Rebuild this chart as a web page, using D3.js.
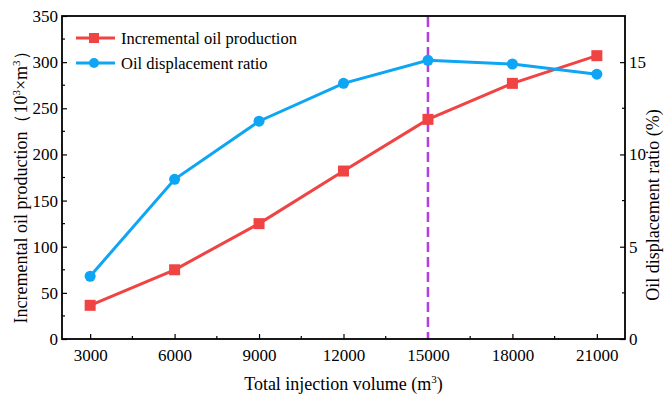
<!DOCTYPE html>
<html>
<head>
<meta charset="utf-8">
<script src="https://cdn.jsdelivr.net/npm/d3@7"></script>
<style>
  body { margin: 0; background: #fff; }
  svg text { font-family: "Liberation Serif", "Times New Roman", serif; fill: #000; }
</style>
</head>
<body>
<svg width="665" height="401"></svg>
<script>
// data
const volumes = [3000, 6000, 9000, 12000, 15000, 18000, 21000];
const oilProduction = [36.5, 75, 125, 182, 238, 277, 307]; // 10^3 m3
const displacementRatio = [3.4, 8.65, 11.8, 13.85, 15.1, 14.9, 14.35]; // %
const xTicks = [3000, 6000, 9000, 12000, 15000, 18000, 21000];
const yLeftTicks = [0, 50, 100, 150, 200, 250, 300, 350];
const yRightTicks = [0, 5, 10, 15];
const markerLine = 15000;

const red = '#f04343';
const blue = '#0ea5f5';
const purple = '#b53ee0';

const m = { left: 62, right: 625, top: 16, bottom: 339 };
const svg = d3.select('svg');

const x = d3.scaleLinear().domain([2000, 22000]).range([m.left, m.right]);
const yL = d3.scaleLinear().domain([0, 350]).range([m.bottom, m.top]);
const yR = d3.scaleLinear().domain([0, 17.5]).range([m.bottom, m.top]);

// minor ticks (inward)
const minor = svg.append('g').attr('stroke', '#000').attr('stroke-width', 1.2);
d3.range(4500, 22000, 3000).forEach((v) => {
    minor.append('line').attr('x1', x(v)).attr('x2', x(v))
        .attr('y1', m.bottom).attr('y2', m.bottom - 3);
});
d3.range(25, 350, 50).forEach((v) => {
    minor.append('line').attr('x1', m.left).attr('x2', m.left + 3)
        .attr('y1', yL(v)).attr('y2', yL(v));
});
d3.range(2.5, 17.5, 5).forEach((v) => {
    minor.append('line').attr('x1', m.right).attr('x2', m.right - 3)
        .attr('y1', yR(v)).attr('y2', yR(v));
});

// axes
const xAxis = svg.append('g').attr('transform', `translate(0,${m.bottom})`)
    .call(d3.axisBottom(x).tickValues(xTicks).tickFormat(d3.format('d'))
        .tickSizeInner(-5).tickSizeOuter(0).tickPadding(10));
const yAxisL = svg.append('g').attr('transform', `translate(${m.left},0)`)
    .call(d3.axisLeft(yL).tickValues(yLeftTicks).tickSizeInner(-5).tickSizeOuter(0).tickPadding(4));
const yAxisR = svg.append('g').attr('transform', `translate(${m.right},0)`)
    .call(d3.axisRight(yR).tickValues(yRightTicks).tickSizeInner(-5).tickSizeOuter(0).tickPadding(4));

[xAxis, yAxisL, yAxisR].forEach((g) => {
    g.selectAll('text').attr('font-size', 17).attr('font-family', '"Liberation Serif", serif');
    g.selectAll('line').attr('stroke-width', 1.2);
    g.select('.domain').remove();
});

// frame
svg.append('rect')
    .attr('x', m.left).attr('y', m.top)
    .attr('width', m.right - m.left).attr('height', m.bottom - m.top)
    .attr('fill', 'none').attr('stroke', '#000').attr('stroke-width', 1.8);

// dashed marker line
svg.append('line')
    .attr('x1', x(markerLine)).attr('x2', x(markerLine))
    .attr('y1', m.top + 1).attr('y2', m.bottom - 1)
    .attr('stroke', purple).attr('stroke-width', 2.5)
    .attr('stroke-dasharray', '10,5');

// series
const redLine = d3.line().x((d, i) => x(volumes[i])).y((d) => yL(d));
const blueLine = d3.line().x((d, i) => x(volumes[i])).y((d) => yR(d));

svg.append('path').attr('d', redLine(oilProduction))
    .attr('fill', 'none').attr('stroke', red).attr('stroke-width', 3);
svg.append('path').attr('d', blueLine(displacementRatio))
    .attr('fill', 'none').attr('stroke', blue).attr('stroke-width', 3);

svg.append('g').selectAll('rect').data(oilProduction).join('rect')
    .attr('x', (d, i) => x(volumes[i]) - 5.5)
    .attr('y', (d) => yL(d) - 5.5)
    .attr('width', 11).attr('height', 11)
    .attr('fill', red);
svg.append('g').selectAll('circle').data(displacementRatio).join('circle')
    .attr('cx', (d, i) => x(volumes[i]))
    .attr('cy', (d) => yR(d))
    .attr('r', 5.5)
    .attr('fill', blue);

// legend
const legend = [
    { name: 'Incremental oil production', color: red, shape: 'square', y: 38 },
    { name: 'Oil displacement ratio', color: blue, shape: 'circle', y: 63 },
];
legend.forEach((l) => {
    const g = svg.append('g');
    g.append('line').attr('x1', 76).attr('x2', 115).attr('y1', l.y).attr('y2', l.y)
        .attr('stroke', l.color).attr('stroke-width', 3);
    if (l.shape === 'square') {
        g.append('rect').attr('x', 94 - 5).attr('y', l.y - 5).attr('width', 10).attr('height', 10)
            .attr('fill', l.color);
    } else {
        g.append('circle').attr('cx', 94).attr('cy', l.y).attr('r', 5).attr('fill', l.color);
    }
    g.append('text').attr('x', 121).attr('y', l.y + 6).attr('font-size', 16.5).text(l.name);
});

// axis titles
const xt = svg.append('text')
    .attr('x', (m.left + m.right) / 2).attr('y', 390)
    .attr('text-anchor', 'middle').attr('font-size', 18);
xt.append('tspan').text('Total injection volume (m');
xt.append('tspan').attr('font-size', 11).attr('dy', -7).text('3');
xt.append('tspan').attr('dy', 7).text(')');

const ylt = svg.append('text')
    .attr('transform', 'translate(27,183) rotate(-90)')
    .attr('text-anchor', 'middle').attr('font-size', 18);
ylt.append('tspan').text('Incremental oil production（10');
ylt.append('tspan').attr('font-size', 11).attr('dy', -7).text('3');
ylt.append('tspan').attr('dy', 7).text('×m');
ylt.append('tspan').attr('font-size', 11).attr('dy', -7).text('3');
ylt.append('tspan').attr('dy', 7).text('）');

svg.append('text')
    .attr('transform', 'translate(659,205) rotate(-90)')
    .attr('text-anchor', 'middle').attr('font-size', 18)
    .text('Oil displacement ratio (%)');
</script>
</body>
</html>
